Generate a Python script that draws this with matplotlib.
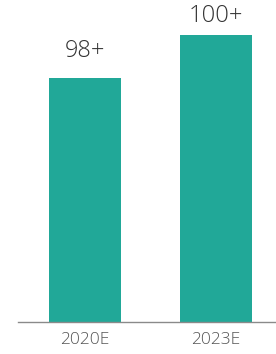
import matplotlib.pyplot as plt

# ── Data ──────────────────────────────────────────────────────────────────────
categories = ["2020E", "2023E"]
values     = [98, 100]
labels     = ["98+", "100+"]

TEAL = "#21a898"
TEXT = "#333333"
FONT = ["Open Sans", "DejaVu Sans"]

W, H, DPI = 276, 354, 100
fig = plt.figure(figsize=(W/DPI, H/DPI), dpi=DPI, facecolor="white")
ax = fig.add_axes([18/W, 32/H, (W-18)/W, 322/H])

x = range(len(categories))
bars = ax.bar(x, values, width=0.55, color=TEAL, zorder=2)

ax.set_xlim(-0.511, 1.458)
ax.set_ylim(86.65, 101.63)

# label gaps differ a bit in the original
for b, lab, dy in zip(bars, labels, [11, 5]):
    ax.annotate(lab, (b.get_x() + b.get_width()/2, b.get_height()),
                xytext=(0, dy), textcoords="offset points",
                ha="center", va="bottom", fontsize=17, color=TEXT,
                family=FONT, fontweight="light")

ax.set_xticks(list(x))
ax.set_xticklabels(categories, fontsize=12.5, color="#555555",
                   family=FONT, fontweight="light")
ax.tick_params(axis="x", length=0, pad=7)
ax.set_yticks([])
for s in ["top", "right", "left"]:
    ax.spines[s].set_visible(False)
ax.spines["bottom"].set_color("#8a8a8a")
ax.spines["bottom"].set_linewidth(1.0)

fig.savefig("out.png", dpi=DPI, facecolor="white")
